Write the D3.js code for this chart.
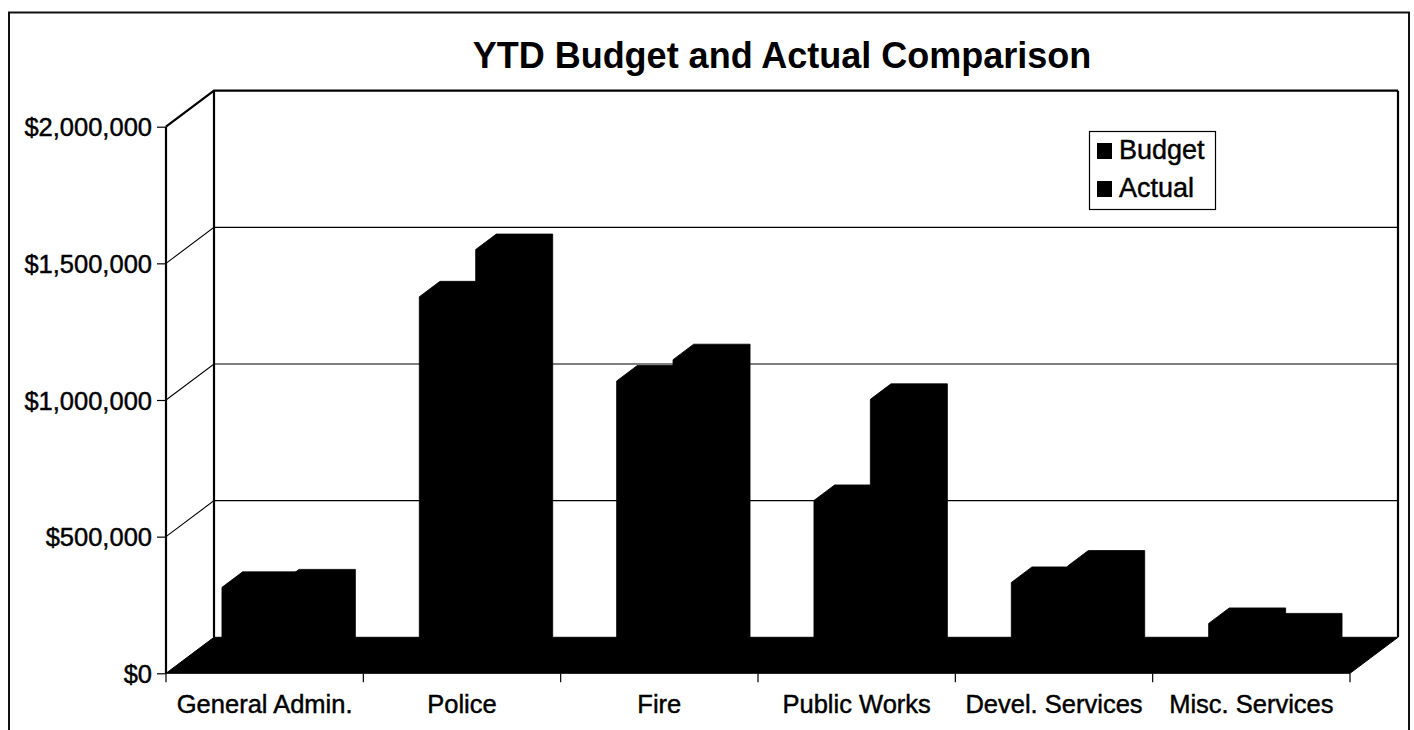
<!DOCTYPE html>
<html>
<head>
<meta charset="utf-8">
<script src="https://cdn.jsdelivr.net/npm/d3@7"></script>
<style>
  html, body { margin: 0; padding: 0; background: #fff; }
  svg { display: block; }
  text { font-family: "Liberation Sans", Arial, sans-serif; fill: #000; }
  .lbl { stroke: #000; stroke-width: 0.45px; }
</style>
</head>
<body>
<svg id="chart" width="1414" height="730"></svg>
<script>
// Departments along the category axis
const categories = ["General Admin.", "Police", "Fire", "Public Works", "Devel. Services", "Misc. Services"];
// Series names shown in the legend
const seriesNames = ["Budget", "Actual"];
// Year-to-date values in dollars
const budgetValues = [277000, 1340000, 1032000, 595000, 295000, 145000];
const actualValues = [286000, 1513000, 1110000, 965000, 355000, 125000];
// Value axis ticks
const yTickValues = [0, 500000, 1000000, 1500000, 2000000];
const yTickLabels = ["$0", "$500,000", "$1,000,000", "$1,500,000", "$2,000,000"];

const svg = d3.select("#chart");

// Front plane of the 3-D box
const plotLeft = 166, plotRight = 1350, plotBottom = 673.3, plotTop = 126.7;
// Oblique projection of the full depth of the box
const DX = 48, DY = -36;
// Bars sit in the middle of the depth
const zFront = 0.285, zBack = 0.715;

const x = d3.scaleBand().domain(categories).range([plotLeft, plotRight]).paddingInner(0).paddingOuter(0);
const xInner = d3.scaleBand().domain(seriesNames).range([0, x.bandwidth()]).paddingInner(0).paddingOuter(0.75);
const y = d3.scaleLinear().domain([0, 2000000]).range([plotBottom, plotTop]);

const P = (px, py, z) => [px + DX * z, py + DY * z];
const poly = pts => "M" + pts.map(p => p.join(",")).join("L") + "Z";

// Outer chart border
svg.append("path")
  .attr("d", "M9,731L9,12.5L1409,12.5L1409,731")
  .attr("fill", "none").attr("stroke", "#111").attr("stroke-width", 2);

// Title, centred over the plot
svg.append("text")
  .attr("x", (plotLeft + plotRight + DX) / 2).attr("y", 68)
  .attr("text-anchor", "middle")
  .attr("font-weight", "bold").attr("font-size", 36)
  .text("YTD Budget and Actual Comparison");

const walls = svg.append("g");

// Gridlines: across the left wall (diagonal) and the back wall
yTickValues.forEach(v => {
  if (v === 0) return;
  const yy = y(v);
  const bw = P(plotLeft, yy, 1), br = P(plotRight, yy, 1);
  const thick = v === 2000000;
  walls.append("path")
    .attr("d", `M${plotLeft},${yy}L${bw[0]},${bw[1]}L${br[0]},${br[1]}`)
    .attr("fill", "none").attr("stroke", "#000")
    .attr("stroke-width", thick ? 2.2 : 1.1);
});

// Back wall verticals
[plotLeft, plotRight].forEach(px => {
  const a = P(px, y(2000000), 1), b = P(px, y(0), 1);
  walls.append("line")
    .attr("x1", a[0]).attr("y1", a[1]).attr("x2", b[0]).attr("y2", b[1])
    .attr("stroke", "#000").attr("stroke-width", 2.2);
});

// Front value axis line
walls.append("line")
  .attr("x1", plotLeft).attr("y1", y(2000000)).attr("x2", plotLeft).attr("y2", plotBottom)
  .attr("stroke", "#000").attr("stroke-width", 2.2);

// Floor
svg.append("path")
  .attr("d", poly([[plotLeft, plotBottom], P(plotLeft, plotBottom, 1), P(plotRight, plotBottom, 1), [plotRight, plotBottom]]))
  .attr("fill", "#000").attr("stroke", "#000").attr("stroke-width", 1);

// 3-D columns
const rows = categories.map((c, i) => ({ cat: c, values: [budgetValues[i], actualValues[i]] }));
const bars = [];
rows.forEach(r => r.values.forEach((v, j) => bars.push({ cat: r.cat, series: seriesNames[j], value: v })));

svg.append("g").selectAll("path")
  .data(bars)
  .join("path")
  .attr("d", d => {
    const x0 = x(d.cat) + xInner(d.series);
    const x1 = x0 + xInner.bandwidth();
    const yt = y(d.value), yb = y(0);
    return poly([
      P(x0, yb, zFront), P(x0, yt, zFront), P(x0, yt, zBack),
      P(x1, yt, zBack), P(x1, yb, zBack), P(x1, yb, zFront)
    ]);
  })
  .attr("fill", "#000").attr("stroke", "#000").attr("stroke-width", 0.8);

// Value axis ticks and labels
const yAxis = d3.axisLeft(y).tickValues(yTickValues)
  .tickFormat((d, i) => yTickLabels[i]).tickSize(9).tickPadding(5);
const gy = svg.append("g").attr("transform", `translate(${plotLeft},0)`).call(yAxis);
gy.select(".domain").remove();
gy.selectAll(".tick line").attr("stroke", "#000").attr("stroke-width", 1.2);
gy.selectAll(".tick text")
  .attr("class", "lbl")
  .attr("font-family", "'Liberation Sans', Arial, sans-serif")
  .attr("font-size", 25.5).attr("fill", "#000").attr("dy", "0.36em");

// Category axis ticks at band boundaries and centred labels
const gx = svg.append("g");
const bounds = categories.map(c => x(c)).concat([plotRight]);
gx.selectAll("line").data(bounds).join("line")
  .attr("x1", d => d).attr("x2", d => d)
  .attr("y1", plotBottom).attr("y2", plotBottom + 9)
  .attr("stroke", "#000").attr("stroke-width", 1.2);
gx.selectAll("text").data(categories).join("text")
  .attr("class", "lbl")
  .attr("x", d => x(d) + x.bandwidth() / 2).attr("y", 713)
  .attr("text-anchor", "middle").attr("font-size", 25.5)
  .text(d => d);

// Legend
const lg = svg.append("g");
lg.append("rect").attr("x", 1089.5).attr("y", 131.5).attr("width", 126).attr("height", 78)
  .attr("fill", "#fff").attr("stroke", "#000").attr("stroke-width", 1.2);
seriesNames.forEach((s, i) => {
  const by = 159 + i * 38;
  lg.append("rect").attr("x", 1097).attr("y", by - 16).attr("width", 15).attr("height", 16).attr("fill", "#000");
  lg.append("text").attr("class", "lbl").attr("x", 1119).attr("y", by).attr("font-size", 27).text(s);
});
</script>
</body>
</html>
